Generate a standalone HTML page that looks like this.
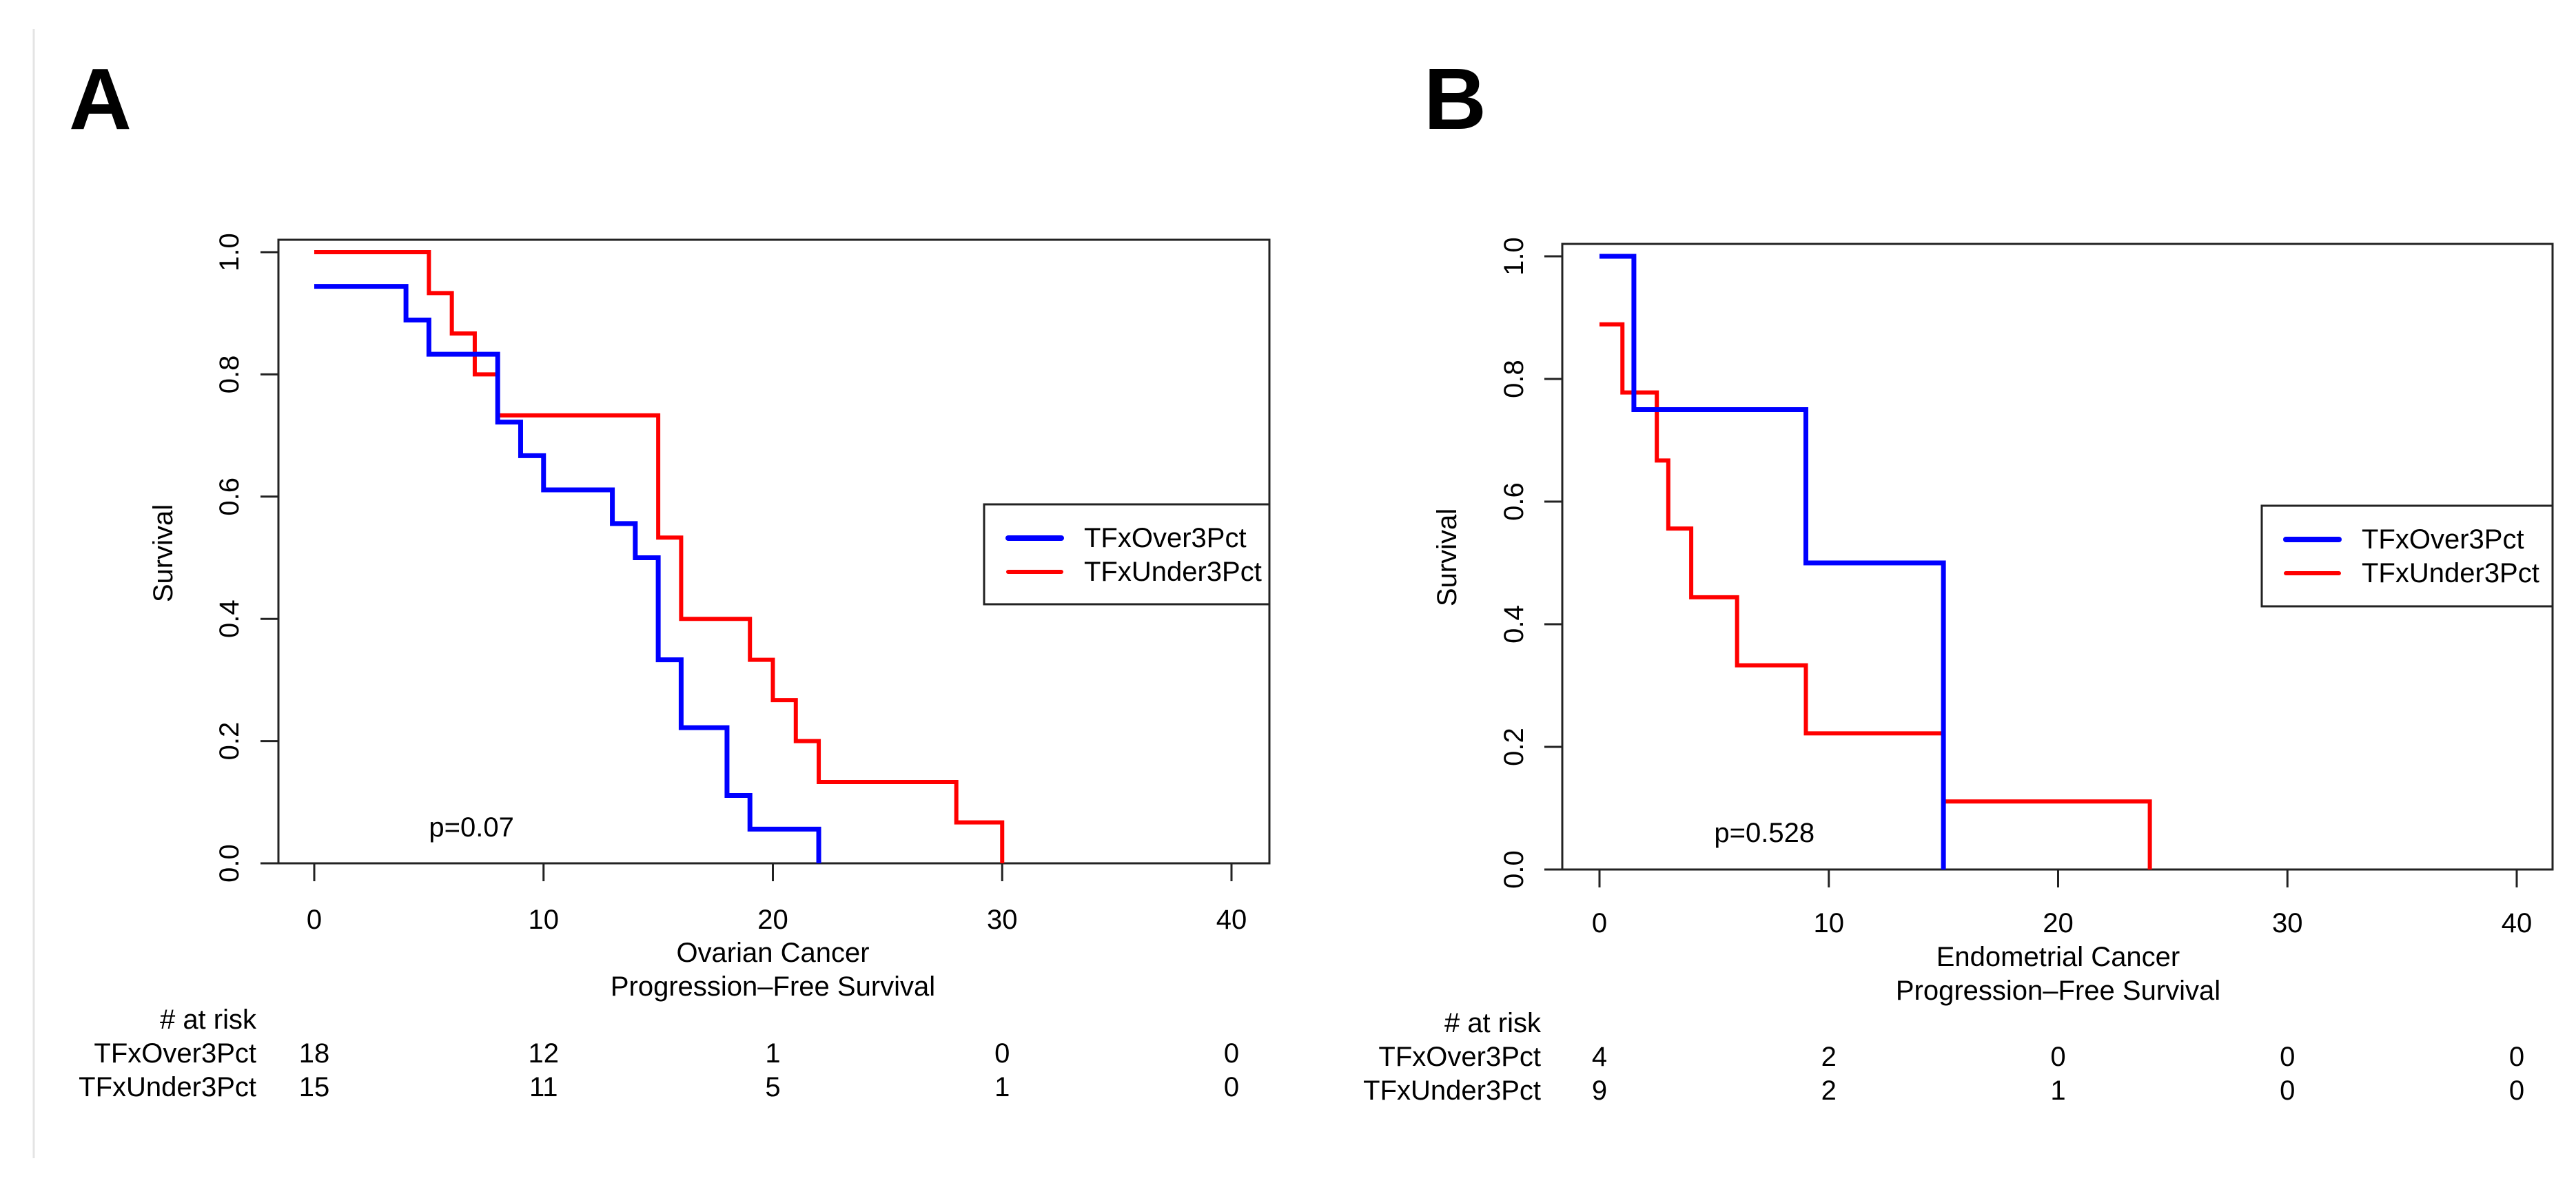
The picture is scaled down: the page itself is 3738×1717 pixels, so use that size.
<!DOCTYPE html>
<html><head><meta charset="utf-8"><style>
body{margin:0;background:#fff}
svg{display:block;font-family:"Liberation Sans",Arial,sans-serif}
</style></head><body>
<svg id="fig" width="3738" height="1717" viewBox="0 0 3738 1717" xmlns="http://www.w3.org/2000/svg">
<rect width="3738" height="1717" fill="#fff"/>
<line x1="49" y1="42" x2="49" y2="1681" stroke="#e4e4e4" stroke-width="3"/>
</svg>
<script>
// Panel A data (Ovarian)
const aOverTimes=[0,4,5,8,9,10,13,14,15,16,18,19,22];
const aOverSurv=[0.944,0.889,0.833,0.722,0.667,0.611,0.556,0.5,0.333,0.222,0.111,0.056,0];
const aUnderTimes=[0,5,6,7,8,15,16,19,20,21,22,28,30];
const aUnderSurv=[1,0.933,0.867,0.8,0.733,0.533,0.4,0.333,0.267,0.2,0.133,0.067,0];
const aRiskOver=[18,12,1,0,0];
const aRiskUnder=[15,11,5,1,0];
// Panel B data (Endometrial)
const bOverTimes=[0,1.5,9,15];
const bOverSurv=[1,0.75,0.5,0];
const bUnderTimes=[0,1,2.5,3,4,6,9,15,24];
const bUnderSurv=[0.889,0.778,0.667,0.556,0.444,0.333,0.222,0.111,0];
const bRiskOver=[4,2,0,0,0];
const bRiskUnder=[9,2,1,0,0];
const xTicks=[0,10,20,30,40];
const yTicks=[0,0.2,0.4,0.6,0.8,1.0];
const yTickLabels=["0.0","0.2","0.4","0.6","0.8","1.0"];

const NS="http://www.w3.org/2000/svg";
const svg=document.getElementById('fig');
function mk(tag,attrs,parent,text){const e=document.createElementNS(NS,tag);for(const k in attrs)e.setAttribute(k,attrs[k]);if(text!==undefined)e.textContent=text;(parent||svg).appendChild(e);return e;}

function panel(p){
  const g=mk('g',{});
  
  
  const xs=v=>p.x0+(p.x40-p.x0)*v/40;
  const ys=v=>p.y0+(p.y1-p.y0)*v;
  let t=mk('text',{x:p.letterX,y:187,'font-size':126,'font-weight':'bold'},g,p.id);
  
  
  let r=mk('rect',{x:p.left,y:p.top,width:p.right-p.left,height:p.y0-p.top,fill:'none',stroke:'#222','stroke-width':3},g);
  
  
  mk('line',{x1:p.left-26,y1:p.y0,x2:p.left,y2:p.y0,stroke:'#222','stroke-width':3},g);
  yTicks.forEach((v,i)=>{
    const l=mk('line',{x1:p.left-26,y1:ys(v),x2:p.left,y2:ys(v),stroke:'#222','stroke-width':3},g);
    
    
    const tx=mk('text',{x:p.ylabX,y:ys(v),'font-size':40,'text-anchor':'middle','dominant-baseline':'central',transform:`rotate(-90 ${p.ylabX} ${ys(v)})`},g,yTickLabels[i]);
    
    
  });
  xTicks.forEach(v=>{
    const l=mk('line',{x1:xs(v),y1:p.y0,x2:xs(v),y2:p.y0+26,stroke:'#222','stroke-width':3},g);
    
    
    const tx=mk('text',{x:xs(v),y:p.tickY,'font-size':40,'text-anchor':'middle','dominant-baseline':'central'},g,String(v));
    
    
  });
  t=mk('text',{x:p.survX,y:p.survY,'font-size':40,'text-anchor':'middle','dominant-baseline':'central',transform:`rotate(-90 ${p.survX} ${p.survY})`},g,'Survival');
  
  
  const cx=xs(20);
  t=mk('text',{x:cx,y:p.titleY,'font-size':40,'text-anchor':'middle','dominant-baseline':'central'},g,p.title);
  
  
  t=mk('text',{x:cx,y:p.titleY+49,'font-size':40,'text-anchor':'middle','dominant-baseline':'central'},g,'Progression\u2013Free Survival');
  
  
  t=mk('text',{x:xs(p.pX),y:p.pY,'font-size':40,'dominant-baseline':'central'},g,p.pText);
  
  
  function curve(times,surv,color,w,name){
    let d=`M${xs(times[0])},${ys(surv[0])}`;
    for(let i=1;i<times.length;i++){d+=`H${xs(times[i])}V${ys(surv[i])}`;}
    const c=mk('path',{d:d,fill:'none',stroke:color,'stroke-width':w},g);
    
    
  }
  curve(p.underT,p.underS,'#ff0000',6,'curve-under3pct');
  curve(p.overT,p.overS,'#0000ff',7,'curve-over3pct');
  // legend
  const lg=mk('g',{},g);
  
  
  mk('rect',{x:p.legX,y:p.legTop,width:p.right-p.legX,height:p.legBot-p.legTop,fill:'#fff',stroke:'#222','stroke-width':3},lg);
  [['TFxOver3Pct','#0000ff',8,p.legTop+49],['TFxUnder3Pct','#ff0000',6,p.legTop+98]].forEach(e=>{
    const le=mk('g',{},lg);
    
    
    mk('line',{x1:p.legX+35,y1:e[3],x2:p.legX+112,y2:e[3],stroke:e[1],'stroke-width':e[2],'stroke-linecap':'round'},le);
    mk('text',{x:p.legX+145,y:e[3],'font-size':40,'dominant-baseline':'central'},le,e[0]);
  });
  // risk table
  t=mk('text',{x:p.riskR,y:p.riskY,'font-size':40,'text-anchor':'end','dominant-baseline':'central'},g,'# at risk');
  
  
  [['TFxOver3Pct',p.riskO,p.riskY+49],['TFxUnder3Pct',p.riskU,p.riskY+98]].forEach(row=>{
    const l=mk('text',{x:p.riskR,y:row[2],'font-size':40,'text-anchor':'end','dominant-baseline':'central'},g,row[0]);
    
    
    row[1].forEach((n,i)=>{
      const c=mk('text',{x:xs(xTicks[i]),y:row[2],'font-size':40,'text-anchor':'middle','dominant-baseline':'central'},g,String(n));
      
      
    });
  });
}
panel({id:'A',letterX:100,left:404,top:348,right:1842,x0:456,x40:1787,y0:1253,y1:366,ylabX:333,tickY:1335,
  survX:237,survY:803,title:'Ovarian Cancer',titleY:1383,pX:5,pY:1201,pText:'p=0.07',
  overT:aOverTimes,overS:aOverSurv,underT:aUnderTimes,underS:aUnderSurv,
  legX:1428,legTop:732,legBot:877,riskR:372,riskY:1480,riskO:aRiskOver,riskU:aRiskUnder});
panel({id:'B',letterX:2066,left:2267,top:354,right:3704,x0:2321,x40:3652,y0:1262,y1:372,ylabX:2197,tickY:1340,
  survX:2100,survY:809,title:'Endometrial Cancer',titleY:1389,pX:5,pY:1209,pText:'p=0.528',
  overT:bOverTimes,overS:bOverSurv,underT:bUnderTimes,underS:bUnderSurv,
  legX:3282,legTop:734,legBot:880,riskR:2236,riskY:1485,riskO:bRiskOver,riskU:bRiskUnder});
</script>
</body></html>
